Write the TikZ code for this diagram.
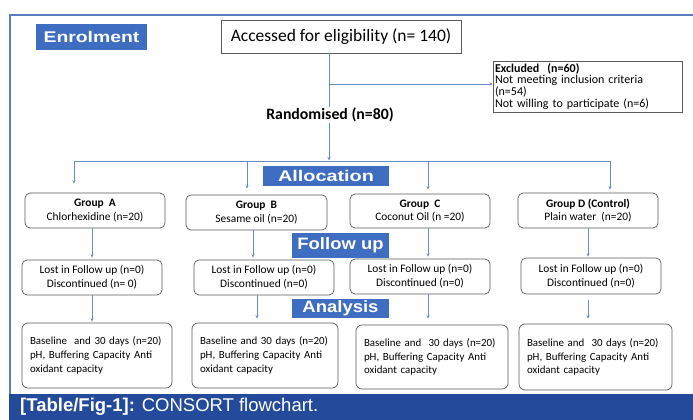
\documentclass[tikz,border=0pt]{standalone}
\usepackage{graphicx}
\usepackage{fontspec}
\setmainfont{Carlito}
\newfontfamily\arialfont{Liberation Sans}
\usetikzlibrary{arrows.meta}
\definecolor{labblue}{HTML}{3F6DC2}
\definecolor{bandblue}{HTML}{244B9B}
\definecolor{framec}{HTML}{5B7DBE}
\definecolor{connc}{HTML}{6A8CC6}
\definecolor{boxc}{HTML}{5A5A5A}
\tikzset{
  lab/.style={fill=labblue, text=white, inner sep=0pt, font=\arialfont\bfseries},
  sqbox/.style={draw=boxc, line width=0.6pt, inner sep=0pt},
  rbox/.style={draw=boxc, line width=0.7pt, rounded corners=5pt, inner sep=0pt, align=center,
    minimum width=140pt, minimum height=35pt, font=\fontsize{11.4}{13.8}\selectfont},
  abox/.style={draw=boxc, line width=0.7pt, rounded corners=6pt, inner xsep=8pt, inner ysep=0pt,
    align=left, minimum height=65pt, font=\fontsize{10.9}{13.7}\selectfont},
  conn/.style={draw=connc, line width=0.6pt},
  arr/.style={conn, -{Stealth[length=3.5pt,width=3pt]}},
}
\newcommand{\anatext}[1]{\mbox{#1}\\\mbox{pH, Buffering\ Capacity Anti}\\\mbox{oxidant capacity}}
\begin{document}
\begin{tikzpicture}[x=1pt,y=-1pt]
\useasboundingbox (0,0) rectangle (693,420);
% frame and band
\fill[white] (0,0) rectangle (693,420);
\draw[framec, line width=1.2pt] (10,420) -- (10,15) -- (693,15);
\fill[bandblue] (9.4,394) rectangle (693,420);
\node[anchor=west, text=white, font=\arialfont\fontsize{18.5}{20}\selectfont, inner sep=0pt] (cap) at (20,407)
  {\textbf{[Table/Fig-1]:} CONSORT flowchart.};

% section labels
\node[lab, minimum width=111pt, minimum height=26pt, font=\arialfont\bfseries\fontsize{15.5}{16}\selectfont] (enr) at (91.5,37) {\scalebox{1.25}[1]{Enrolment}};
\node[lab, minimum width=126pt, minimum height=20pt, font=\arialfont\bfseries\fontsize{15.5}{16}\selectfont] (alloc) at (326,176) {\scalebox{1.28}[1]{Allocation}};
\node[lab, minimum width=97pt, minimum height=25pt, font=\arialfont\bfseries\fontsize{16.5}{17}\selectfont] (fu) at (340.5,245.5) {\scalebox{1.12}[1]{Follow up}};
\node[lab, minimum width=97pt, minimum height=19pt, font=\arialfont\bfseries\fontsize{16.5}{17}\selectfont] (ana) at (340.5,308.5) {\scalebox{1.12}[1]{Analysis}};

% enrolment
\node[sqbox, minimum width=240pt, minimum height=33pt, font=\fontsize{17.5}{19}\selectfont] (acc) at (341,36.5) {Accessed for eligibility (n= 140)};
\node[sqbox, minimum width=189pt, minimum height=51pt, inner xsep=2pt, text width=185pt, align=left,
  font=\fontsize{12}{8.6}\selectfont] (exc) at (587.5,86.5)
  {\textbf{Excluded\ \ (n=60)}\\Not meeting inclusion criteria\\(n=54)\\Not willing to participate (n=6)};

\coordinate (top) at (329,53);
\coordinate (bx) at (329,84);
\coordinate (hs) at (329,160.5);
\coordinate (hA) at (74,161);
\coordinate (hD) at (610,161);
\coordinate (dD) at (588,300);
\draw[conn] (top) -- (bx);
\draw[arr] (bx) -- (exc.west |- bx);
\draw[arr] (bx) -- (hs);
\node[fill=white, inner sep=1pt, font=\bfseries\fontsize{15.8}{17}\selectfont] (rand) at (330,115) {Randomised (n=80)};
\draw[conn] (hA) -- (hD);

% groups
\node[rbox] (gA) at (95,210.5) {\textbf{Group\ \ A}\\Chlorhexidine (n=20)};
\node[rbox, minimum width=141pt] (gB) at (256.5,212.5) {\textbf{Group\ \ B}\\Sesame oil (n=20)};
\node[rbox, minimum height=34pt] (gC) at (420,211) {\textbf{Group\ \ C}\\Coconut Oil (n =20)};
\node[rbox] (gD) at (588,210.5) {\textbf{Group D (Control)}\\Plain water\ \ (n=20)};

\draw[arr, shorten >=9pt] (hA) -- (hA |- gA.north);
\draw[arr, shorten >=6pt] (hA -| 247,0) -- (247,0 |- gB.north);
\draw[arr, shorten >=4pt] (hA -| 428,0) -- (428,0 |- gC.north);
\draw[arr, shorten >=3pt] (hD) -- (hD |- gD.north);

% follow up
\node[rbox] (lA) at (92,277.5) {Lost in Follow up (n=0)\\Discontinued (n= 0)};
\node[rbox] (lB) at (264,277.5) {Lost in Follow up (n=0)\\Discontinued (n=0)};
\node[rbox] (lC) at (420,276.5) {Lost in Follow up (n=0)\\Discontinued (n=0)};
\node[rbox, minimum height=36pt] (lD) at (591,276) {Lost in Follow up (n=0)\\Discontinued (n=0)};

\draw[arr, shorten >=2pt] (gA.south -| 92,0) -- (92,0 |- lA.north);
\draw[arr, shorten >=2pt] (gB.south -| 253,0) -- (253,0 |- lB.north);
\draw[arr, shorten >=2pt] (gC.south -| 428,0) -- (428,0 |- lC.north);
\draw[arr, shorten >=1pt] (gD.south -| 588,0) -- (588,0 |- lD.north);

% analysis
\node[abox, text width=134pt] (aA) at (97,355.5) {\anatext{Baseline\ \ and 30 days (n=20)}};
\node[abox, text width=130pt] (aB) at (265,355.5) {\anatext{Baseline and 30 days (n=20)}};
\node[abox, text width=136pt, minimum height=64pt] (aC) at (432,357) {\anatext{Baseline and\ \ 30 days (n=20)}};
\node[abox, text width=137pt, minimum height=66pt] (aD) at (595.5,357) {\anatext{Baseline and\ \ 30 days (n=20)}};

\draw[arr, shorten >=1pt] (lA.south -| 92,0) -- (92,0 |- aA.north);
\draw[arr, shorten >=4pt] (lB.south -| 257,0) -- (257,0 |- aB.north);
\draw[arr, shorten >=6pt] (lC.south -| 428,0) -- (428,0 |- aC.north);
\draw[arr, shorten >=5pt] (dD) -- (588,0 |- aD.north);
\end{tikzpicture}
\end{document}
